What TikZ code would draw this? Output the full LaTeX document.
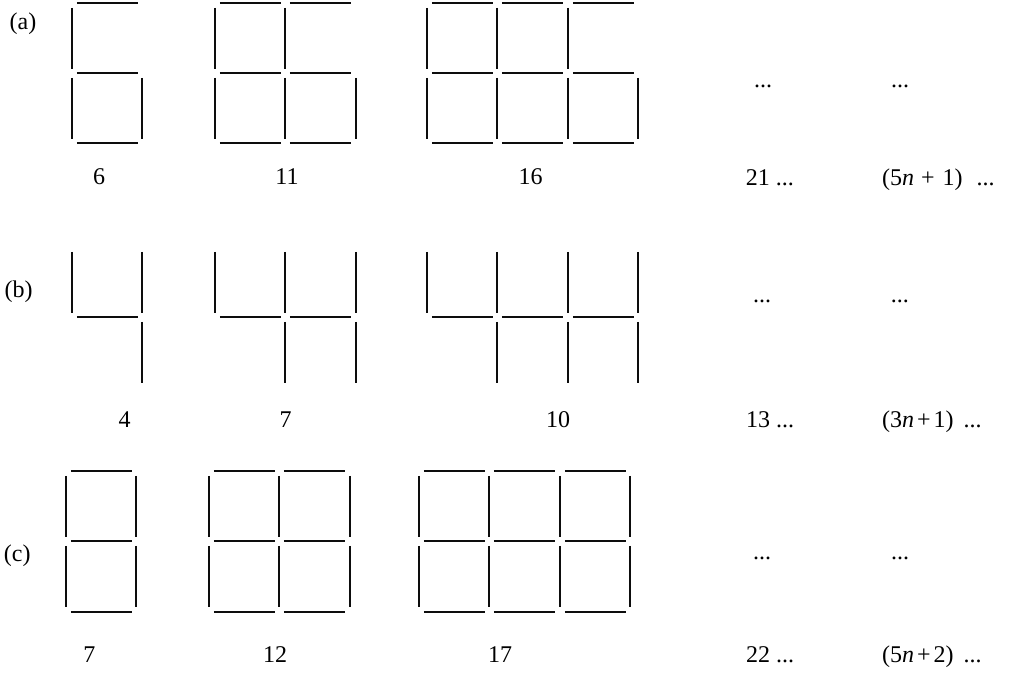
\documentclass[tikz,border=0pt]{standalone}
\usepackage{fontspec}
\setmainfont{Liberation Serif}
\begin{document}
\begin{tikzpicture}[x=1pt,y=-1pt,
  stick/.style={line width=2.2pt,draw=black!95},
  lab/.style={font=\fontsize{24}{28}\selectfont,inner sep=0pt,text=black}]
\useasboundingbox (0,0) rectangle (1009,677);
\def\cw{70.4}
\def\gp{4.8}
\newcommand\hs[2]{\draw[stick] ({#1+\gp},{#2}) -- ({#1+\cw-\gp},{#2});}
\newcommand\vs[2]{\draw[stick] ({#1},{#2+\gp}) -- ({#1},{#2+\cw-\gp});}
% ---------- row (a) ----------
\foreach \x/\k in {72/1,215/2,427/3}{
  \foreach \i in {1,...,\k}{
    \pgfmathsetmacro\xx{round(\x+(\i-1)*\cw)}
    \hs{\xx}{3}\hs{\xx}{73}\hs{\xx}{143}
    \vs{\xx}{3}\vs{\xx}{73}
  }
  \pgfmathsetmacro\xr{round(\x+\k*\cw)}
  \vs{\xr}{73}
}
% ---------- row (b) ----------
\foreach \x/\k in {72/1,215/2,427/3}{
  \foreach \i in {1,...,\k}{
    \pgfmathsetmacro\xx{round(\x+(\i-1)*\cw)}
    \hs{\xx}{317}
    \pgfmathsetmacro\xl{round(\x+\i*\cw)}
    \vs{\xl}{317}
  }
  \foreach \i in {0,...,\k}{
    \pgfmathsetmacro\xx{round(\x+\i*\cw)}
    \vs{\xx}{247}
  }
}
% ---------- row (c) ----------
\foreach \x/\k in {66/1,209/2,419/3}{
  \foreach \i in {1,...,\k}{
    \pgfmathsetmacro\xx{round(\x+(\i-1)*\cw)}
    \hs{\xx}{471}\hs{\xx}{541}\hs{\xx}{612}
  }
  \foreach \i in {0,...,\k}{
    \pgfmathsetmacro\xx{round(\x+\i*\cw)}
    \vs{\xx}{471}\vs{\xx}{541}
  }
}
% ---------- labels ----------
\node[lab] (la) at (23,24) {(a)};
\node[lab] (lb) at (18.7,291.6) {(b)};
\node[lab] (lc) at (17.3,555.3) {(c)};
\node[lab] (a1) at (99,177) {6};
\node[lab] (a2) at (287,177) {11};
\node[lab] (a3) at (530.7,177) {16};
\node[lab] (b1) at (124.5,420) {4};
\node[lab] (b2) at (285.5,420) {7};
\node[lab] (b3) at (558,420) {10};
\node[lab] (c1) at (89.3,655) {7};
\node[lab] (c2) at (275,655) {12};
\node[lab] (c3) at (500,655) {17};
\node[lab,anchor=base west] (ad1) at (754,87) {...};
\node[lab,anchor=base west] (ad2) at (891,87) {...};
\node[lab,anchor=base west] (a4) at (745.7,185.5) {21 ...};
\node[lab,anchor=base west] (a5) at (882,185.5) {(5\textit{n}\hspace{1pt} +\hspace{2pt} 1)\hspace{8pt} ...};
\node[lab,anchor=base west] (bd1) at (753,302) {...};
\node[lab,anchor=base west] (bd2) at (890.7,302) {...};
\node[lab,anchor=base west] (b4) at (746,427.7) {13 ...};
\node[lab,anchor=base west] (b5) at (882,427.7) {(3\textit{n}\hspace{3pt}+\hspace{3pt}1)\hspace{4pt} ...};
\node[lab,anchor=base west] (cd1) at (753,559) {...};
\node[lab,anchor=base west] (cd2) at (891,559) {...};
\node[lab,anchor=base west] (c4) at (746,662) {22 ...};
\node[lab,anchor=base west] (c5) at (882,662) {(5\textit{n}\hspace{3pt}+\hspace{3pt}2)\hspace{4pt} ...};
\end{tikzpicture}
\end{document}
